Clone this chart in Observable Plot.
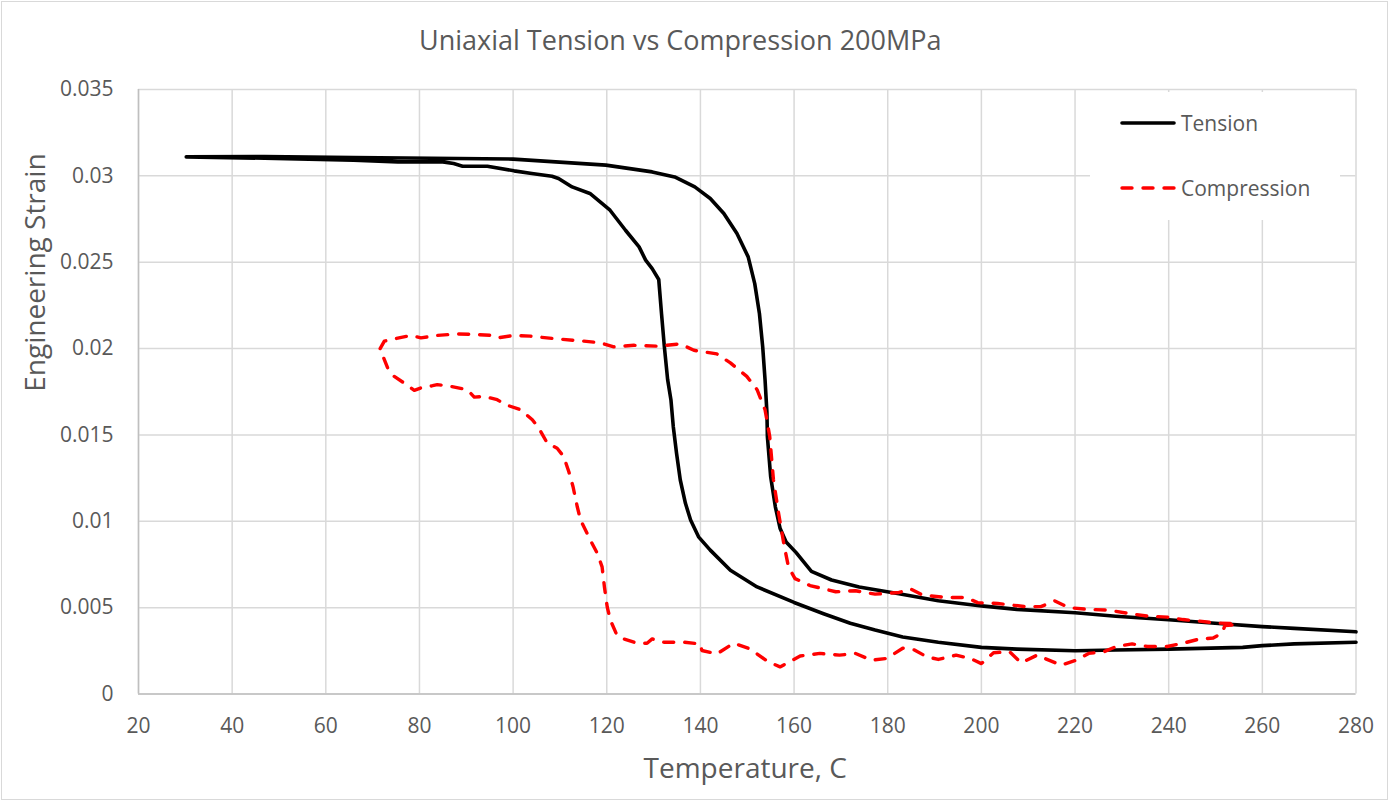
<!DOCTYPE html>
<html><head><meta charset="utf-8">
<script src="https://cdn.jsdelivr.net/npm/d3@7"></script>
<script src="https://cdn.jsdelivr.net/npm/@observablehq/plot@0.6"></script>
<style>
html,body{margin:0;padding:0;background:#fff;}
#wrap{position:relative;width:1389px;height:801px;overflow:hidden;font-family:'Open Sans',sans-serif;}
#border{position:absolute;left:1px;top:1px;width:1385px;height:797px;border:1px solid #d9d9d9;pointer-events:none;}
#legend{position:absolute;left:1090px;top:92px;width:250px;height:128px;background:#fff;}
.item{position:absolute;left:30px;height:30px;display:flex;align-items:center;}
.item span{font-size:21px;color:#595959;margin-left:5px;}
</style></head><body><div id="wrap"></div>
<script>
const titleText = "Uniaxial Tension vs Compression 200MPa";
const xLabel = "Temperature, C";
const yLabel = "Engineering Strain";
const seriesNames = ["Tension", "Compression"];
const xTicks = [20,40,60,80,100,120,140,160,180,200,220,240,260,280];
const xTickLabels = ["20","40","60","80","100","120","140","160","180","200","220","240","260","280"];
const yTicks = [0,0.005,0.01,0.015,0.02,0.025,0.03,0.035];
const yTickLabels = ["0","0.005","0.01","0.015","0.02","0.025","0.03","0.035"];

// Tension: cooling branch (280 -> 30) then heating branch (30 -> 280)
const tensionT = [280,266.8,260,255.8,240,228.7,220,207.6,200,190.8,183.2,177.3,172,166.3,160,152.1,146.4,142.1,139.6,137.9,136.8,135.7,134.9,134.2,133.7,133.0,132.3,131.7,131.1,129.7,128.3,126.9,124,120.7,116.4,112.6,109.7,108.3,104,100.2,94.5,89.2,87.3,85,75.4,65.9,46.9,30.2,
  46.9,65.9,100,119.8,129.7,134.5,138.8,142.1,145,147.8,150.2,151.6,152.6,153.3,153.8,154.2,154.3,155,156,157,158.3,160.4,163.7,168,173.9,182.4,190.8,200,207.6,220,228.7,240,249.9,260,266.8,280];
const tensionS = [0.0030,0.0029,0.0028,0.0027,0.0026,0.00255,0.0025,0.0026,0.0027,0.0030,0.0033,0.0037,0.0041,0.00465,0.0053,0.0062,0.00716,0.00833,0.0091,0.01007,0.01104,0.01239,0.01394,0.01549,0.01704,0.0182,0.0201,0.0220,0.0240,0.02463,0.02512,0.02589,0.02685,0.02801,0.02898,0.02936,0.02985,0.02998,0.03014,0.03029,0.03056,0.03056,0.03071,0.03081,0.03081,0.03091,0.03102,0.0311,
  0.03112,0.03106,0.03097,0.03062,0.03023,0.02994,0.02936,0.02869,0.02782,0.02666,0.02531,0.02376,0.02203,0.0201,0.0182,0.0163,0.0149,0.01258,0.01084,0.0096,0.0088,0.0082,0.0071,0.0066,0.0062,0.0058,0.0054,0.0051,0.0049,0.0047,0.0045,0.0043,0.0041,0.0039,0.0038,0.0036];

const compressionT = [71.6,72.5,74.6,78.2,80.3,83.8,88.1,92.4,95.2,96.6,100.2,103.7,109.4,115.1,118.7,121.5,125.8,130.7,135.7,138.6,143.5,146.4,149.9,152.1,153.8,154.8,155.6,156.7,157.8,158.8,160.2,163.4,168.9,173.1,177.3,182.4,184.9,187.4,192.5,196.7,199.2,203.5,209.4,212.7,215.7,218.6,222.9,227.1,231.3,235.5,239.7,243.1,246.5,249.9,253.2,254.5,252,251.4,249.5,246.5,243.1,239.7,235.5,232.2,228.8,226.2,222.9,220.3,217,214.4,211.9,208.5,206,202.6,200,197.6,194.6,190.8,188.3,185.7,183.2,179.8,176.5,173.1,169.7,165.5,161.3,157,154.5,150.6,147.1,143.5,140.3,140,136.4,132.2,129.7,128.6,126.5,123.6,122.2,120.8,120.1,119.5,119,118,116.5,114.4,113.7,112.8,111.9,110.8,109.4,107.3,105.5,104.1,101.6,98.4,96.6,93.8,91.7,90.2,86.7,83.8,82.8,80.3,78.9,76.7,74.6,73.2,72.5,71.8,71.6];
const compressionS = [0.0200,0.02043,0.02056,0.02076,0.02062,0.02076,0.02085,0.02081,0.02077,0.02062,0.02076,0.02072,0.02056,0.02043,0.02033,0.0201,0.02019,0.02014,0.02027,0.0199,0.01969,0.01917,0.01839,0.01762,0.01646,0.01491,0.01239,0.01045,0.00871,0.00736,0.00668,0.00628,0.00592,0.00598,0.00578,0.00588,0.00608,0.00573,0.00559,0.00559,0.00529,0.00524,0.00506,0.00506,0.00539,0.0050,0.0049,0.00486,0.00467,0.00451,0.00445,0.00431,0.00422,0.00412,0.00408,0.00402,0.00396,0.00353,0.00324,0.00318,0.00294,0.00275,0.00275,0.0029,0.00275,0.00245,0.00235,0.00196,0.00167,0.00196,0.00225,0.0018,0.00245,0.00239,0.00176,0.00206,0.00225,0.0020,0.00216,0.00255,0.00265,0.00206,0.00196,0.00235,0.00225,0.00235,0.0022,0.00157,0.00186,0.00261,0.00294,0.00232,0.00252,0.0029,0.003,0.003,0.00319,0.00294,0.00294,0.00319,0.00339,0.00426,0.00503,0.0062,0.00736,0.00813,0.00891,0.01007,0.01084,0.012,0.01287,0.01375,0.01423,0.01452,0.01539,0.01588,0.01646,0.01675,0.01704,0.01723,0.01719,0.01762,0.01781,0.01791,0.01785,0.01772,0.01758,0.01801,0.01839,0.01888,0.01936,0.01985,0.0200];

const seriesColors = ["#000000", "#ff0000"];
const tension = tensionT.map((T, i) => ({T, S: tensionS[i]}));
const compression = compressionT.map((T, i) => ({T, S: compressionS[i]}));
const txtColor = "#595959";
const dashPattern = "10,11";

const chart = Plot.plot({
  width: 1389, height: 801,
  marginLeft: 138, marginRight: 33.5, marginTop: 89, marginBottom: 107.5,
  style: {fontFamily: "'Open Sans', sans-serif", background: "white", color: txtColor, overflow: "visible"},
  x: {domain: [20, 280]},
  y: {domain: [0, 0.035]},
  marks: [
    Plot.gridX(xTicks, {stroke: "#d9d9d9", strokeOpacity: 1, strokeWidth: 1.5}),
    Plot.gridY(yTicks, {stroke: "#d9d9d9", strokeOpacity: 1, strokeWidth: 1.5}),
    Plot.ruleX([20], {stroke: "#bfbfbf", strokeWidth: 1.5}),
    Plot.ruleY([0], {stroke: "#bfbfbf", strokeWidth: 1.5}),
    Plot.axisX(xTicks, {tickSize: 0, tickPadding: 24, fontSize: 21, fill: txtColor, label: null,
      tickFormat: d => xTickLabels[xTicks.indexOf(d)]}),
    Plot.axisY(yTicks, {tickSize: 0, tickPadding: 25, fontSize: 21, fill: txtColor, label: null,
      tickFormat: d => yTickLabels[yTicks.indexOf(d)]}),
    Plot.line(tension, {x: "T", y: "S", stroke: seriesColors[0], strokeWidth: 3.6, strokeLinejoin: "round", strokeLinecap: "round"}),
    Plot.line(compression, {x: "T", y: "S", stroke: seriesColors[1], strokeWidth: 3.4, strokeDasharray: dashPattern, strokeLinecap: "round", strokeLinejoin: "round"}),
    Plot.text([titleText], {text: d => d, frameAnchor: "top", dx: -67, dy: -40, lineAnchor: "bottom", fontSize: 27, fill: txtColor}),
    Plot.text([xLabel], {text: d => d, frameAnchor: "bottom", dx: -2, dy: 83.5, lineAnchor: "bottom", fontSize: 28, fill: txtColor}),
    Plot.text([yLabel], {text: d => d, frameAnchor: "left", rotate: -90, dx: -94, lineAnchor: "bottom", fontSize: 28, fill: txtColor})
  ]
});

const wrap = document.getElementById("wrap");
wrap.appendChild(chart);

// Legend
const legend = document.createElement("div");
legend.id = "legend";
const dashes = ["", dashPattern];
const tops = [16, 81];
seriesNames.forEach((name, i) => {
  const item = document.createElement("div");
  item.className = "item";
  item.style.top = tops[i] + "px";
  item.innerHTML = `<svg width="56" height="10"><line x1="2" y1="5" x2="54" y2="5" stroke="${seriesColors[i]}" stroke-width="${i === 0 ? 3.6 : 3.4}" stroke-linecap="round" ${dashes[i] ? `stroke-dasharray="${dashes[i]}"` : ""}/></svg><span>${name}</span>`;
  legend.appendChild(item);
});
wrap.appendChild(legend);

const border = document.createElement("div");
border.id = "border";
wrap.appendChild(border);
</script>
</body></html>
